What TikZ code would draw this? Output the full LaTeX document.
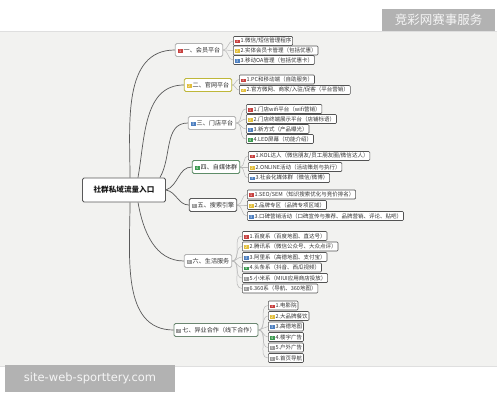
\documentclass[tikz,border=0pt]{standalone}
\usepackage{fontspec}
\setmainfont{Noto Sans CJK SC}
\newfontfamily\urlfont{DejaVu Sans}
\usetikzlibrary{positioning,backgrounds}
\definecolor{paper}{HTML}{F2F2F0}
\definecolor{pred}{HTML}{C8413F}
\definecolor{pyellow}{HTML}{E2BE3C}
\definecolor{pblue}{HTML}{4D7FC0}
\definecolor{pgreen}{HTML}{3C9A50}
\definecolor{pgray}{HTML}{9A9A9A}
\newcommand\prio[2]{{\setlength{\fboxsep}{0.5pt}\colorbox{#1}{\makebox[4pt][c]{\fontsize{3.6}{3.6}\selectfont\color{white}#2}}}\hspace{1pt}}

\begin{document}
\begin{tikzpicture}[x=1pt,y=-1pt,
    rootbox/.style={draw=gray!70!black, line width=0.9pt, rounded corners=1.5pt, fill=white,
      minimum width=83pt, minimum height=24pt, text=gray!20!black,
      font=\fontsize{7.6}{8}\selectfont\bfseries},
    topic/.style={draw=#1, line width=0.8pt, rounded corners=1.5pt, fill=white, inner sep=2.4pt,
      minimum height=13pt, text=gray!35!black, font=\fontsize{6.1}{6.5}\selectfont},
    leaf/.style={draw=gray!65!black, line width=0.6pt, rounded corners=1pt, fill=white,
      inner sep=1.3pt, minimum height=9pt, anchor=west, text=gray!40!black,
      font=\fontsize{5.5}{5.8}\selectfont},
    trunk/.style={draw=gray!70!black, line width=0.7pt},
    twig/.style={draw=gray!55, line width=0.5pt},
    stampbox/.style={fill=gray!60, text=gray!8, inner sep=0pt}]
  \useasboundingbox (0,0) rectangle (497,401);

  \node[rootbox] (root) at (124,190) {社群私域流量入口};

  \node[topic=gray!60] (b1) at (199,50) {\prio{pred}{1}一、会员平台};
  \node[leaf] (c11) at (233,41) {\prio{pred}{1}1.微信/短信管理程序};
  \node[leaf] (c12) at (233,50.5) {\prio{pyellow}{2}2.实体会员卡管理（包括优惠）};
  \node[leaf] (c13) at (233,60) {\prio{pblue}{3}3.移动OA管理（包括优惠卡）};

  \node[topic=olive!40!yellow!70!gray] (b2) at (208,85) {\prio{pyellow}{2}二、官网平台};
  \node[leaf] (c21) at (239,79.5) {\prio{pred}{1}1.PC和移动端（自助服务）};
  \node[leaf] (c22) at (239,90) {\prio{pyellow}{2}2.官方微网、商家/入驻/促客（平台营销）};

  \node[topic=gray!60] (b3) at (212,123) {\prio{pblue}{3}三、门店平台};
  \node[leaf] (c31) at (246,109) {\prio{pred}{1}1.门店wifi平台（wifi营销）};
  \node[leaf] (c32) at (246,119) {\prio{pyellow}{2}2.门店终端展示平台（店铺标语）};
  \node[leaf] (c33) at (246,129) {\prio{pblue}{3}3.新方式（产品曝光）};
  \node[leaf] (c34) at (246,139) {\prio{pgreen}{4}4.LED屏幕（功能介绍）};

  \node[topic=pgreen!50!gray] (b4) at (216,167) {\prio{pgreen}{4}四、自媒体群};
  \node[leaf] (c41) at (248,156) {\prio{pred}{1}1.KOL达人（微信朋友/员工朋友圈/微信达人）};
  \node[leaf] (c42) at (248,167) {\prio{pyellow}{2}2.ONLINE活动（活动策划与执行）};
  \node[leaf] (c43) at (248,178) {\prio{pblue}{3}3.社会化媒体群（微信/微博）};

  \node[topic=gray!70!black] (b5) at (213,205) {\prio{pgray}{5}五、搜索引擎};
  \node[leaf] (c51) at (247,194.5) {\prio{pred}{1}1.SEO/SEM（知识搜索优化与竞价排名）};
  \node[leaf] (c52) at (247,205) {\prio{pyellow}{2}2.品牌专区（品牌专项区域）};
  \node[leaf] (c53) at (247,216) {\prio{pblue}{3}3.口碑营销活动（口碑宣传与推荐、品牌营销、评论、贴吧）};

  \node[topic=gray!60] (b6) at (208,261) {\prio{pgray}{6}六、生活服务};
  \node[leaf] (c61) at (242,236) {\prio{pred}{1}1.百度系（百度地图、直达号）};
  \node[leaf] (c62) at (242,246.5) {\prio{pyellow}{2}2.腾讯系（微信公众号、大众点评）};
  \node[leaf] (c63) at (242,257) {\prio{pblue}{3}3.阿里系（高德地图、支付宝）};
  \node[leaf] (c64) at (242,267.5) {\prio{pgreen}{4}4.头条系（抖音、西瓜视频）};
  \node[leaf] (c65) at (242,278) {\prio{pgray}{5}5.小米系（MIUI应用商店投放）};
  \node[leaf] (c66) at (242,288.5) {\prio{pgray}{6}6.360系（导航、360地图）};

  \node[topic=pgreen!30!gray] (b7) at (216,330) {\prio{pgray}{7}七、异业合作（线下合作）};
  \node[leaf] (c71) at (268,305.5) {\prio{pred}{1}1.电影院};
  \node[leaf] (c72) at (268,316) {\prio{pyellow}{2}2.大品牌餐饮};
  \node[leaf] (c73) at (268,326.5) {\prio{pblue}{3}3.高德地图};
  \node[leaf] (c74) at (268,337) {\prio{pgreen}{4}4.楼宇广告};
  \node[leaf] (c75) at (268,347.5) {\prio{pgray}{5}5.户外广告};
  \node[leaf] (c76) at (268,358) {\prio{pgray}{6}6.首页导航};

  \node[stampbox, minimum width=113pt, minimum height=22pt, font=\fontsize{12.5}{13}\selectfont]
    (stamp) at (438.5,20) {竞彩网赛事服务};
  \node[stampbox, minimum width=170pt, minimum height=27pt, font=\urlfont\fontsize{11.5}{12}\selectfont]
    (site) at (90,378.5) {site-web-sporttery.com};

  \begin{scope}[on background layer]
    \fill[white] (0,0) rectangle (497,401);
    \fill[paper] (0,31) rectangle (497,366);
    \draw[gray!25, line width=0.5pt] (0,31) -- (497,31) (0,366) -- (497,366);

    \draw[trunk] ([xshift=6pt]root.north) to[out=90,in=180] (b1.west);
    \draw[trunk] ([xshift=14pt]root.north) to[out=80,in=180] (b2.west);
    \draw[trunk] ([xshift=-6pt]root.north east) to[out=60,in=180] (b3.west);
    \draw[trunk] (root.east) to[out=20,in=180] (b4.west);
    \draw[trunk] (root.east) to[out=-10,in=180] (b5.west);
    \draw[trunk] ([xshift=14pt]root.south) to[out=-80,in=180] (b6.west);
    \draw[trunk] ([xshift=6pt]root.south) to[out=-90,in=180] (b7.west);

    \draw[twig] (b1.east) to[out=0,in=180] (c11.west);
    \draw[twig] (b1.east) to[out=0,in=180] (c12.west);
    \draw[twig] (b1.east) to[out=0,in=180] (c13.west);
    \draw[twig] (b2.east) to[out=0,in=180] (c21.west);
    \draw[twig] (b2.east) to[out=0,in=180] (c22.west);
    \draw[twig] (b3.east) to[out=0,in=180] (c31.west);
    \draw[twig] (b3.east) to[out=0,in=180] (c32.west);
    \draw[twig] (b3.east) to[out=0,in=180] (c33.west);
    \draw[twig] (b3.east) to[out=0,in=180] (c34.west);
    \draw[twig] (b4.east) to[out=0,in=180] (c41.west);
    \draw[twig] (b4.east) to[out=0,in=180] (c42.west);
    \draw[twig] (b4.east) to[out=0,in=180] (c43.west);
    \draw[twig] (b5.east) to[out=0,in=180] (c51.west);
    \draw[twig] (b5.east) to[out=0,in=180] (c52.west);
    \draw[twig] (b5.east) to[out=0,in=180] (c53.west);
    \draw[twig] (b6.east) to[out=0,in=180] (c61.west);
    \draw[twig] (b6.east) to[out=0,in=180] (c62.west);
    \draw[twig] (b6.east) to[out=0,in=180] (c63.west);
    \draw[twig] (b6.east) to[out=0,in=180] (c64.west);
    \draw[twig] (b6.east) to[out=0,in=180] (c65.west);
    \draw[twig] (b6.east) to[out=0,in=180] (c66.west);
    \draw[twig] (b7.east) to[out=0,in=180] (c71.west);
    \draw[twig] (b7.east) to[out=0,in=180] (c72.west);
    \draw[twig] (b7.east) to[out=0,in=180] (c73.west);
    \draw[twig] (b7.east) to[out=0,in=180] (c74.west);
    \draw[twig] (b7.east) to[out=0,in=180] (c75.west);
    \draw[twig] (b7.east) to[out=0,in=180] (c76.west);
  \end{scope}
\end{tikzpicture}
\end{document}
